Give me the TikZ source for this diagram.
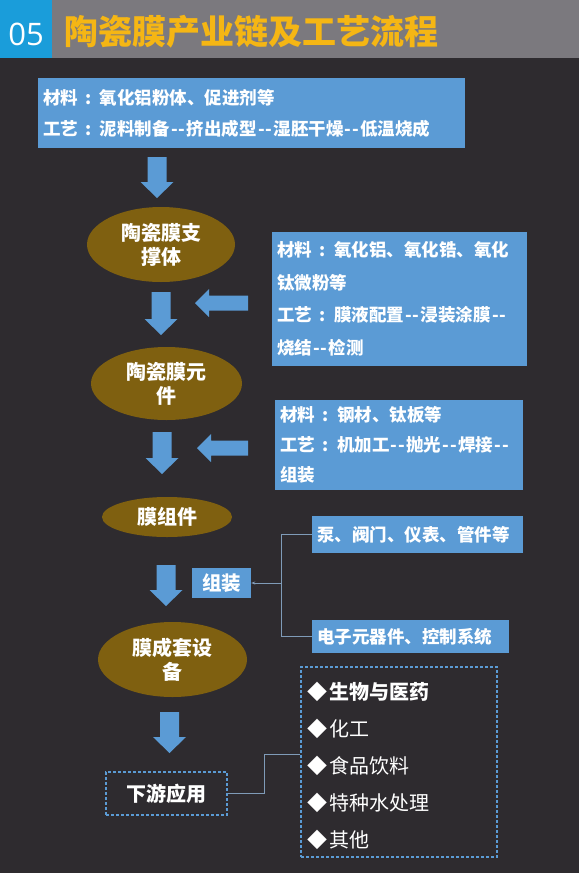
\documentclass[tikz,border=0pt]{standalone}
\usepackage{fontspec}
\setmainfont{Noto Sans CJK SC}[Ligatures=TeXOff]
\newfontfamily\numfont{Open Sans}
\usetikzlibrary{shapes.geometric,arrows.meta}
\definecolor{bg}{HTML}{2E2B2F}
\definecolor{hdrgray}{HTML}{7B797E}
\definecolor{hdrblue}{HTML}{1A9DDA}
\definecolor{titley}{HTML}{F5B614}
\definecolor{boxblue}{HTML}{5B9BD5}
\definecolor{olive}{HTML}{7F6010}
\definecolor{connc}{HTML}{7F9BB8}
\newcommand\cl{\makebox[22pt]{:}}
\newcommand\dd{\kern1.2pt-\kern1pt-\kern1.2pt}
\newcommand\dia{◆\hspace{2pt}}
\tikzset{
  infobox/.style={fill=boxblue, text=white, font=\bfseries\fontsize{17.5}{31}\selectfont, align=left, inner sep=5pt, anchor=center},
  stage/.style={ellipse, fill=olive, text=white, font=\bfseries\fontsize{20}{24}\selectfont, align=center, inner sep=0pt},
  dashbox/.style={draw=boxblue, dashed, dash pattern=on 3pt off 2pt, line width=1.2pt, text=white},
  conn/.style={draw=connc, line width=0.8pt},
  listitem/.style={text=white, anchor=west, inner sep=0pt, font=\fontsize{20}{24}\selectfont},
  arrowblue/.style={fill=boxblue}
}
\newcommand\downarr[3]{\fill[arrowblue] (#1-9.5,#2) -- (#1+9.5,#2) -- (#1+9.5,#3-16) -- (#1+16.5,#3-16) -- (#1,#3) -- (#1-16.5,#3-16) -- (#1-9.5,#3-16) -- cycle;}
\newcommand\leftarr[3]{\fill[arrowblue] (#2,#3-7.5) -- (#2,#3+7.5) -- (#1+14,#3+7.5) -- (#1+14,#3+14) -- (#1,#3) -- (#1+14,#3-14) -- (#1+14,#3-7.5) -- cycle;}
\begin{document}
\begin{tikzpicture}[x=1pt,y=-1pt]
\useasboundingbox (0,0) rectangle (579,873);
\fill[bg] (0,0) rectangle (579,873);
% header
\fill[hdrgray] (0,0) rectangle (579,58);
\fill[hdrblue] (0,0) rectangle (52,58);
\node[text=white, font=\numfont\fontsize{31}{31}\selectfont, inner sep=0pt] (num) at (26,34) {05};
\node[text=titley, font=\bfseries\fontsize{34}{34}\selectfont, anchor=west, inner sep=0pt] (title) at (64,32) {陶瓷膜产业链及工艺流程};
% boxes
\node[infobox, minimum width=427pt, minimum height=70pt, text width=417pt] (b1) at (251.5,113)
  {材料\cl 氧化铝粉体、促进剂等\\工艺\cl 泥料制备\dd 挤出成型\dd 湿胚干燥\dd 低温烧成};
\node[infobox, minimum width=255pt, minimum height=134pt, text width=245pt, font=\bfseries\fontsize{17.5}{32.5}\selectfont] (b2) at (399.5,299)
  {材料\cl 氧化铝、氧化锆、氧化\\钛微粉等\\工艺\cl 膜液配置\dd 浸装涂膜\dd\\烧结\dd 检测};
\node[infobox, minimum width=248pt, minimum height=90pt, text width=238pt, font=\bfseries\fontsize{17.5}{30}\selectfont] (b3) at (399,445)
  {材料\cl 钢材、钛板等\\工艺\cl 机加工\dd 抛光\dd 焊接\dd\\组装};
\node[infobox, minimum width=211pt, minimum height=37pt, text width=201pt] (pump) at (417.5,534.5) {泵、阀门、仪表、管件等};
\node[infobox, minimum width=197pt, minimum height=33pt, text width=187pt] (elec) at (410.5,636.5) {电子元器件、控制系统};
\node[infobox, minimum width=59pt, minimum height=30pt, inner sep=0pt, align=center, font=\bfseries\fontsize{19.5}{22}\selectfont] (zz) at (221.5,583) {组装};
% stages
\node[stage, minimum width=148pt, minimum height=75pt] (e1) at (161,244.5) {陶瓷膜支\\撑体};
\node[stage, minimum width=151pt, minimum height=73pt] (e2) at (166.5,383.5) {陶瓷膜元\\件};
\node[stage, minimum width=130pt, minimum height=40pt] (e3) at (167,517) {膜组件};
\node[stage, minimum width=149pt, minimum height=75pt] (e4) at (172.5,659.5) {膜成套设\\备};
% downstream
\node[dashbox, minimum width=121pt, minimum height=43pt, inner sep=0pt, font=\bfseries\fontsize{20}{24}\selectfont] (xy) at (166.5,793.5) {下游应用};
\node[dashbox, minimum width=196pt, minimum height=190pt, inner sep=0pt] (list) at (399,762) {};
\node[listitem, font=\bfseries\fontsize{20}{24}\selectfont] (i1) at (307,692) {\dia 生物与医药};
\node[listitem] (i2) at (307,729) {\dia 化工};
\node[listitem] (i3) at (307,766) {\dia 食品饮料};
\node[listitem] (i4) at (307,803) {\dia 特种水处理};
\node[listitem] (i5) at (307,840) {\dia 其他};
% block arrows
\downarr{157}{157}{198}
\downarr{161}{292}{335}
\downarr{162}{432}{474}
\downarr{166}{565}{606}
\downarr{169.5}{712}{753}
\leftarr{195}{248}{303}
\leftarr{197}{248}{448}
% connectors
\coordinate (jn) at (281,583);
\draw[conn] (pump.west) -| (jn);
\draw[conn] (elec.west) -| (jn);
\draw[conn, -{Stealth[length=4pt,width=3pt]}] (jn) -- (zz.east);
\coordinate (lk) at (list.west |- 0,754);
\draw[conn] (xy.east) -- ++(37,0) |- (lk);
\end{tikzpicture}
\end{document}
